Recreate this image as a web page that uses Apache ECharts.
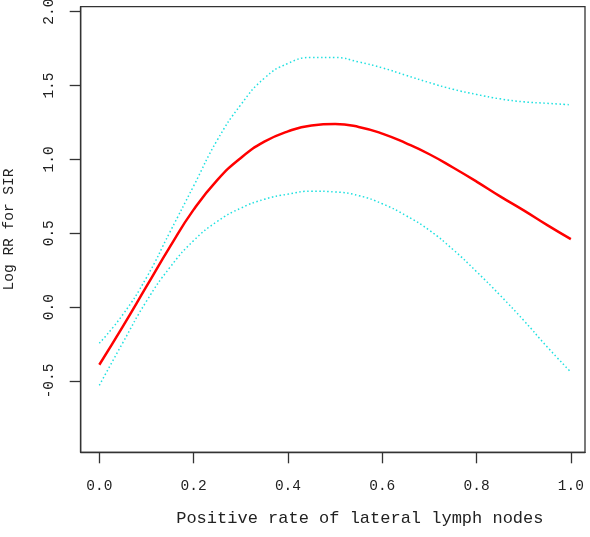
<!DOCTYPE html>
<html>
<head>
<meta charset="utf-8">
<script src="https://cdn.jsdelivr.net/npm/echarts@6/dist/echarts.min.js"></script>
<style>
  html, body { margin: 0; padding: 0; background: #fff; }
  #chart { width: 590px; height: 537px; }
</style>
</head>
<body>
<div id="chart"></div>
<script>
// positive rate (x) sampled every 0.05
const rates = [0, 0.05, 0.1, 0.15, 0.2, 0.25, 0.3, 0.35, 0.4, 0.45, 0.5,
  0.55, 0.6, 0.65, 0.7, 0.75, 0.8, 0.85, 0.9, 0.95, 1.0];
const logRR = [-0.39, -0.13, 0.14, 0.41, 0.66, 0.86, 1.01, 1.12, 1.19, 1.23, 1.24,
  1.22, 1.175, 1.11, 1.035, 0.945, 0.85, 0.75, 0.655, 0.555, 0.46];
const upperCI = [-0.245, -0.05, 0.20, 0.51, 0.82, 1.13, 1.37, 1.55, 1.65, 1.69, 1.69,
  1.66, 1.62, 1.57, 1.52, 1.475, 1.44, 1.41, 1.39, 1.38, 1.37];
const lowerCI = [-0.53, -0.24, 0.04, 0.27, 0.45, 0.58, 0.67, 0.73, 0.765, 0.785, 0.78,
  0.755, 0.70, 0.62, 0.52, 0.39, 0.24, 0.08, -0.09, -0.27, -0.44];
const xTicks = [0, 0.2, 0.4, 0.6, 0.8, 1.0];
const yTicks = [-0.5, 0, 0.5, 1.0, 1.5, 2.0];

const pairs = ys => rates.map((x, i) => [x, ys[i]]);

const chart = echarts.init(document.getElementById('chart'));
const font = '"Liberation Mono", "DejaVu Sans Mono", monospace';
const axisColor = '#333';

const option = {
  animation: false,
  grid: {
    left: 80.7,
    top: 6.7,
    right: 5,
    bottom: 84.7,
    outerBoundsMode: 'none',
    containLabel: false,
    show: true,
    borderColor: axisColor,
    borderWidth: 1.3,
  },
  xAxis: {
    type: 'value',
    min: -0.0395,
    max: 1.030,
    name: 'Positive rate of lateral lymph nodes',
    nameLocation: 'middle',
    nameGap: 58,
    nameTextStyle: {
      fontFamily: font,
      fontSize: 17,
      color: '#222',
      padding: [0, 0, 0, 54],
    },
    splitLine: { show: false },
    axisLine: { show: true, onZero: false, lineStyle: { color: axisColor, width: 1.3 } },
    axisTick: {
      show: true,
      length: 11,
      customValues: xTicks,
      lineStyle: { color: axisColor, width: 1.3 },
    },
    axisLabel: {
      customValues: xTicks,
      margin: 26,
      fontFamily: font,
      fontSize: 14.5,
      color: '#222',
      formatter: v => v.toFixed(1),
    },
  },
  yAxis: {
    type: 'value',
    min: -0.983,
    max: 2.034,
    name: 'Log RR for SIR',
    nameLocation: 'middle',
    nameGap: 64,
    nameRotate: 90,
    nameTextStyle: {
      fontFamily: font,
      fontSize: 14.5,
      color: '#222',
    },
    splitLine: { show: false },
    axisLine: { show: true, onZero: false, lineStyle: { color: axisColor, width: 1.3 } },
    axisTick: {
      show: true,
      length: 11,
      customValues: yTicks,
      lineStyle: { color: axisColor, width: 1.3 },
    },
    axisLabel: {
      customValues: yTicks,
      rotate: 90,
      margin: 24,
      fontFamily: font,
      fontSize: 14.5,
      color: '#222',
      formatter: v => v.toFixed(1),
    },
  },
  series: [
    {
      name: 'upper',
      type: 'line',
      smooth: true,
      showSymbol: false,
      data: pairs(upperCI),
      lineStyle: { color: '#1EE0E0', width: 1.5, type: [1.5, 2.5] },
    },
    {
      name: 'lower',
      type: 'line',
      smooth: true,
      showSymbol: false,
      data: pairs(lowerCI),
      lineStyle: { color: '#1EE0E0', width: 1.5, type: [1.5, 2.5] },
    },
    {
      name: 'log RR',
      type: 'line',
      smooth: true,
      showSymbol: false,
      data: pairs(logRR),
      lineStyle: { color: '#FF0000', width: 2.5 },
    },
  ],
};

chart.setOption(option);
</script>
</body>
</html>
